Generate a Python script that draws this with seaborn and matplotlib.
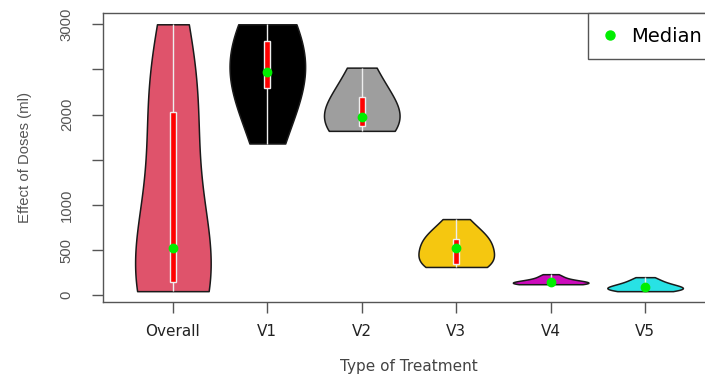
import numpy as np
import pandas as pd
import matplotlib
matplotlib.use("Agg")
import matplotlib.pyplot as plt
from matplotlib.lines import Line2D
import seaborn as sns

# ---- data ----
groups = ["V1", "V2", "V3", "V4", "V5"]
v1 = [1680, 1850, 2050, 2250, 2350, 2400, 2440, 2470, 2550, 2650, 2780, 2840, 2900, 2960, 3000]
v2 = [1820, 1830, 1845, 1860, 1890, 1920, 1950, 1970, 2000, 2060, 2150, 2250, 2330, 2420, 2520]
v3 = [313, 325, 335, 345, 355, 400, 460, 520, 560, 590, 610, 630, 690, 760, 843]
v4 = [122, 124, 126, 128, 131, 134, 140, 145, 150, 156, 165, 178, 195, 212, 233]
v5 = [45, 50, 56, 62, 68, 75, 82, 90, 98, 108, 120, 135, 152, 175, 200]
group_values = [v1, v2, v3, v4, v5]
categories = ["Overall"] + groups
colors = ["#DF536B", "#000000", "#9E9E9E", "#F5C710", "#CD0BBC", "#28E2E5"]
y_ticks = [0, 500, 1000, 1500, 2000, 2500, 3000]
y_tick_labels = ["0", "500", "1000", "", "2000", "", "3000"]

rows = []
for g, vals in zip(groups, group_values):
    for v in vals:
        rows.append(("Overall", v))
for g, vals in zip(groups, group_values):
    for v in vals:
        rows.append((g, v))
df = pd.DataFrame(rows, columns=["treatment", "dose"])

# kernel smoothing per violin (style)
bw_adjust = {"Overall": 1.85, "V1": 2.3, "V2": 2.0, "V3": 1.3, "V4": 1.2, "V5": 1.2}

sns.set_theme(style="white")
fig = plt.figure(figsize=(7.05, 3.79), dpi=100)
ax = fig.add_axes([103 / 705, 1 - 302 / 379, (715 - 103) / 705, (302 - 13) / 379])

for cat in categories:
    sns.violinplot(data=df[df["treatment"] == cat], x="treatment", y="dose",
                   order=categories, hue="treatment", hue_order=categories,
                   palette=colors, legend=False, cut=0, density_norm="width",
                   width=0.8, inner=None, linewidth=1.1, linecolor="#1a1a1a",
                   saturation=1, bw_adjust=bw_adjust[cat], ax=ax)

sns.boxplot(data=df, x="treatment", y="dose", order=categories,
            color="#FF0000", saturation=1, width=0.06, whis=(0, 100),
            showcaps=False, showfliers=False, fill=True,
            linecolor="#EEEEEE", linewidth=1.0,
            medianprops=dict(linewidth=0), ax=ax)

sns.pointplot(data=df, x="treatment", y="dose", order=categories,
              estimator="median", errorbar=None, color="#00EE00",
              linestyle="none", markers="o", markersize=5, ax=ax)

ax.set_xlim(-0.74, 5.74)
ax.set_ylim(-75, 3125)
ax.set_yticks(y_ticks)
ax.set_yticklabels(y_tick_labels, rotation=90, va="center",
                   family="Liberation Sans", fontsize=10.7, color="#555555")
ax.set_xticks(range(len(categories)))
ax.set_xticklabels(categories, family="DejaVu Sans", fontsize=11, color="#222222")
ax.tick_params(axis="both", which="both", direction="out", length=8,
               width=1, color="#555555", left=True, bottom=True)
ax.tick_params(axis="y", pad=13)
ax.tick_params(axis="x", pad=8)
for s in ax.spines.values():
    s.set_color("#555555")
    s.set_linewidth(1)

ax.set_xlabel("Type of Treatment", family="DejaVu Sans", fontsize=11,
              color="#444444")
ax.set_ylabel("Effect of Doses (ml)", family="Liberation Sans", fontsize=10.7,
              color="#555555")
ax.xaxis.set_label_coords(0.5, (302 - 359) / 289)
ax.yaxis.set_label_coords((32 - 103) / 612, 0.5)

handle = Line2D([], [], marker="o", color="#00EE00", linestyle="none", markersize=6.5)
leg = ax.legend([handle], ["Median"], loc="upper right", borderaxespad=0,
                fancybox=False, framealpha=1, edgecolor="#555555",
                prop={"family": "DejaVu Sans", "size": 14}, labelcolor="black",
                borderpad=0.7, handletextpad=0.6, handlelength=0.9)
leg.get_frame().set_linewidth(1)

fig.savefig("out.png", dpi=100)
